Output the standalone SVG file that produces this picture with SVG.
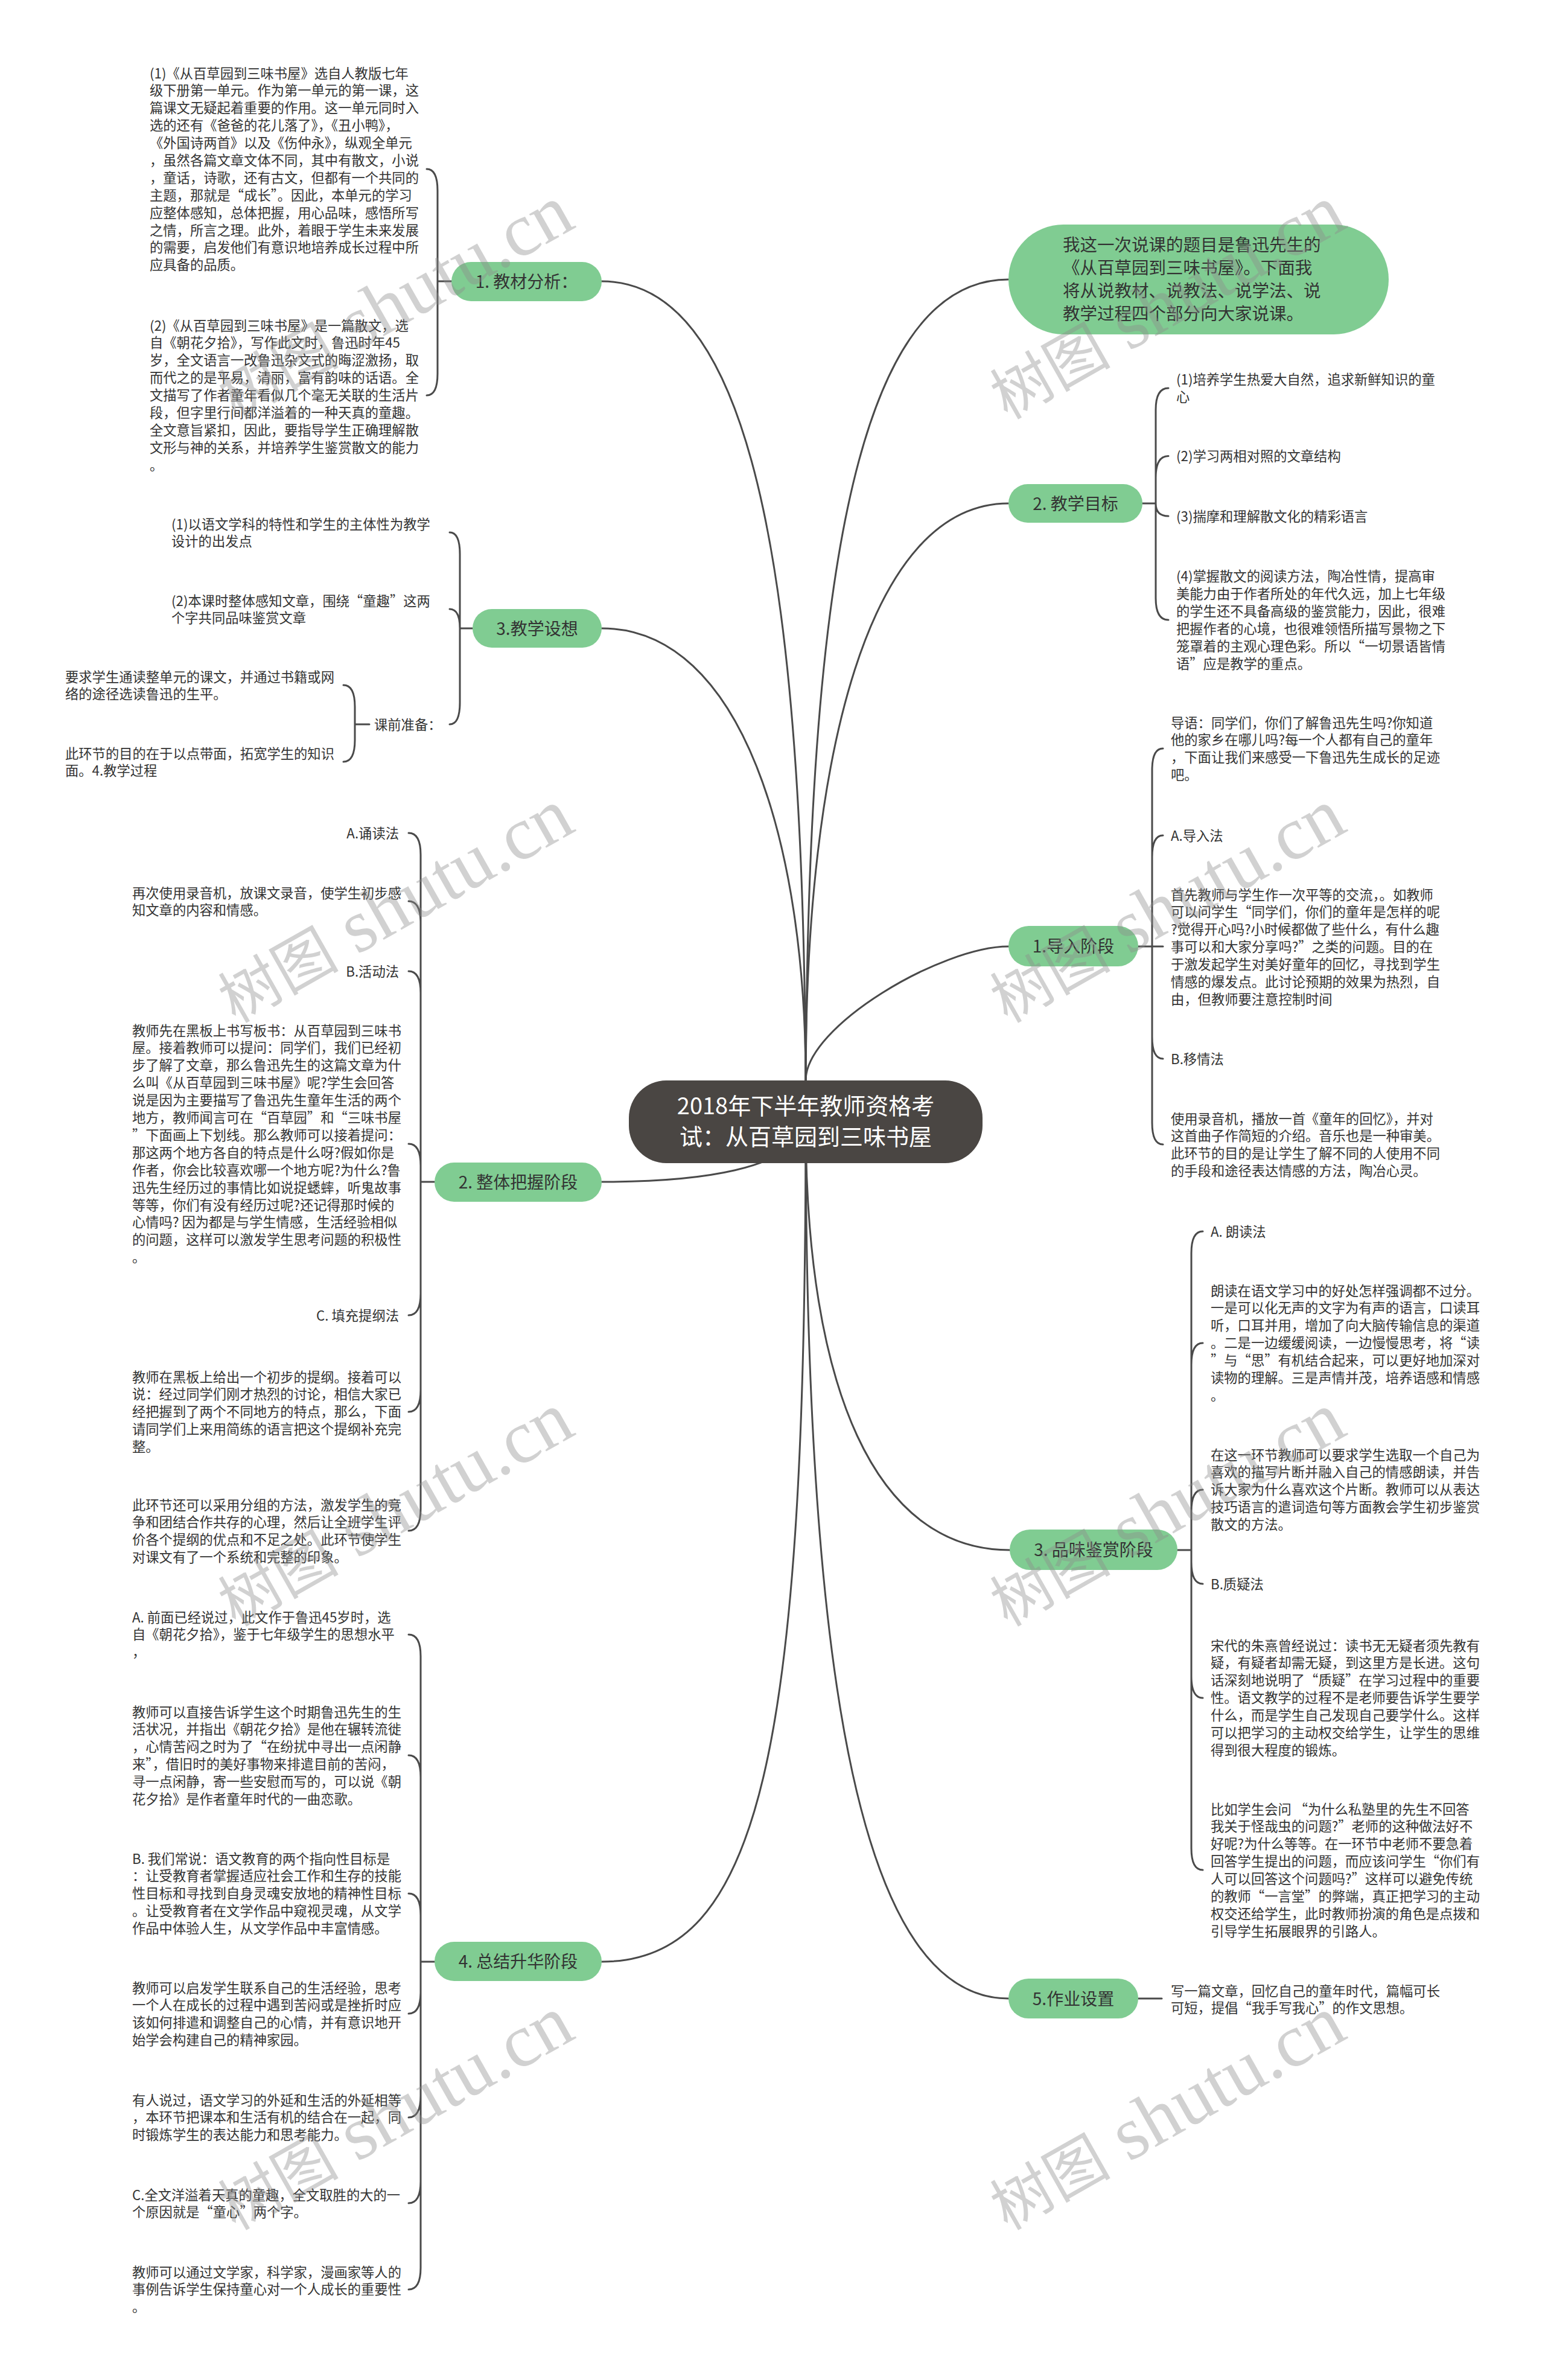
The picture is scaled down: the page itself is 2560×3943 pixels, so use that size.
<svg xmlns="http://www.w3.org/2000/svg" width="2560" height="3943" viewBox="0 0 2560 3943">
<style>
.t{font-family:'Noto Sans CJK SC','Noto Sans',sans-serif;font-size:22.3px;fill:#333}
.e{text-anchor:end}
.n{font-family:'Noto Sans CJK SC','Noto Sans',sans-serif;font-size:28px;fill:#333;text-anchor:middle}
.r{font-family:'Noto Sans CJK SC','Noto Sans',sans-serif;font-size:38px;fill:#fff;text-anchor:middle}
.i{font-family:'Noto Sans CJK SC','Noto Sans',sans-serif;font-size:28.5px;fill:#333}
.g{fill:#80cc92}
.c path{fill:none;stroke:#4a4a4a;stroke-width:3;stroke-linecap:round}
.wm text{font-family:'Liberation Serif','Noto Sans CJK SC',serif;fill:#8c8c8c;fill-opacity:0.4}
</style>
<rect width="2560" height="3943" fill="#fff"/>
<g id="connectors" class="c">
<path d="M1335 1858 C1335 1009 1260 466 997 466"/>
<path d="M1335 1790 C1335 1400 1230 1041 997 1041"/>
<path d="M1335 1858 C1320 1940 1150 1958 997 1958"/>
<path d="M1335 1858 C1335 2901 1260 3250 997 3250"/>
<path d="M1335 1858 C1335 1009 1408 463 1671 463"/>
<path d="M1335 1790 C1335 1250 1440 834 1671 834"/>
<path d="M1335 1790 C1335 1700 1560 1568 1671 1568"/>
<path d="M1335 1858 C1335 2300 1450 2568 1673 2568"/>
<path d="M1335 1858 C1335 2800 1430 3311 1671 3311"/>
<path d="M748 466 H725 M725 466 V316 Q725 280 707 280 M725 466 V619 Q725 655 707 655"/>
<path d="M783 1041 H762 M762 1041 V918 Q762 882 745 882 M762 1041 Q762 1009 745 1009 M762 1041 V1164 Q762 1200 745 1200"/>
<path d="M612 1200 H588 M588 1200 V1171 Q588 1135 569 1135 M588 1200 V1226 Q588 1262 569 1262"/>
<path d="M720 1958 H697 M697 1958 V1416 Q697 1380 677 1380 M697 1958 V1529 Q697 1493 677 1493 M697 1958 V1645 Q697 1609 677 1609 M697 1958 V1931 Q697 1895 677 1895 M697 1958 V2143 Q697 2179 677 2179 M697 1958 V2303 Q697 2339 677 2339 M697 1958 V2500 Q697 2536 677 2536"/>
<path d="M720 3250 H697 M697 3250 V2744 Q697 2708 677 2708 M697 3250 V2944 Q697 2908 677 2908 M697 3250 V3173 Q697 3137 677 3137 M697 3250 V3300 Q697 3336 677 3336 M697 3250 V3472 Q697 3508 677 3508 M697 3250 V3614 Q697 3650 677 3650 M697 3250 V3757 Q697 3793 677 3793"/>
<path d="M1893 834 H1915 M1915 834 V679 Q1915 643 1936 643 M1915 834 V791.5 Q1915 755.5 1936 755.5 M1915 834 Q1915 855 1936 855 M1915 834 V991 Q1915 1027 1936 1027"/>
<path d="M1886 1568 H1927 M1909 1568 V1276 Q1909 1240 1927 1240 M1909 1568 V1420 Q1909 1384 1927 1384 M1909 1568 V1718 Q1909 1754 1927 1754 M1909 1568 V1860 Q1909 1896 1927 1896"/>
<path d="M1951 2568 H1974 M1974 2568 V2076 Q1974 2040 1993 2040 M1974 2568 V2261 Q1974 2225 1993 2225 M1974 2568 V2504 Q1974 2468 1993 2468 M1974 2568 V2588 Q1974 2624 1993 2624 M1974 2568 V2777 Q1974 2813 1993 2813 M1974 2568 V3062 Q1974 3098 1993 3098"/>
<path d="M1886 3311 H1925"/>
</g>
<g id="root">
<rect x="1042" y="1790" width="586" height="137" rx="62" fill="#4a4643"/>
<text class="r" x="1335" y="1846.4">2018年下半年教师资格考</text>
<text class="r" x="1335" y="1897.4">试：从百草园到三味书屋</text>
</g>
<g id="intro">
<rect class="g" x="1671" y="372" width="630" height="182" rx="91"/>
<text class="i" x="1761" y="415.8">我这一次说课的题目是鲁迅先生的</text>
<text class="i" x="1761" y="453.8">《从百草园到三味书屋》。下面我</text>
<text class="i" x="1761" y="491.8">将从说教材、说教法、说学法、说</text>
<text class="i" x="1761" y="529.8">教学过程四个部分向大家说课。</text>
</g>
<g id="n1">
<rect class="g" x="748" y="434" width="249" height="65" rx="32.5"/>
<text class="n" x="872.5" y="477">1. 教材分析：</text>
</g>
<g id="n1-c1">
<text class="t" x="248" y="129.5"><tspan x="248" dy="0">(1)《从百草园到三味书屋》选自人教版七年</tspan><tspan x="248" dy="28.9">级下册第一单元。作为第一单元的第一课，这</tspan><tspan x="248" dy="28.9">篇课文无疑起着重要的作用。这一单元同时入</tspan><tspan x="248" dy="28.9">选的还有《爸爸的花儿落了》，《丑小鸭》，</tspan><tspan x="248" dy="28.9">《外国诗两首》以及《伤仲永》，纵观全单元</tspan><tspan x="248" dy="28.9">，虽然各篇文章文体不同，其中有散文，小说</tspan><tspan x="248" dy="28.9">，童话，诗歌，还有古文，但都有一个共同的</tspan><tspan x="248" dy="28.9">主题，那就是“成长”。因此，本单元的学习</tspan><tspan x="248" dy="28.9">应整体感知，总体把握，用心品味，感悟所写</tspan><tspan x="248" dy="28.9">之情，所言之理。此外，着眼于学生未来发展</tspan><tspan x="248" dy="28.9">的需要，启发他们有意识地培养成长过程中所</tspan><tspan x="248" dy="28.9">应具备的品质。</tspan></text>
</g>
<g id="n1-c2">
<text class="t" x="248" y="547.5"><tspan x="248" dy="0">(2)《从百草园到三味书屋》是一篇散文，选</tspan><tspan x="248" dy="28.9">自《朝花夕拾》，写作此文时，鲁迅时年45</tspan><tspan x="248" dy="28.9">岁，全文语言一改鲁迅杂文式的晦涩激扬，取</tspan><tspan x="248" dy="28.9">而代之的是平易，清丽，富有韵味的话语。全</tspan><tspan x="248" dy="28.9">文描写了作者童年看似几个毫无关联的生活片</tspan><tspan x="248" dy="28.9">段，但字里行间都洋溢着的一种天真的童趣。</tspan><tspan x="248" dy="28.9">全文意旨紧扣，因此，要指导学生正确理解散</tspan><tspan x="248" dy="28.9">文形与神的关系，并培养学生鉴赏散文的能力</tspan><tspan x="248" dy="28.9">。</tspan></text>
</g>
<g id="n3">
<rect class="g" x="783" y="1009" width="214" height="64" rx="32"/>
<text class="n" x="890" y="1051.6">3.教学设想</text>
</g>
<g id="n3-c1"><text class="t" x="284" y="876.5"><tspan x="284" dy="0">(1)以语文学科的特性和学生的主体性为教学</tspan><tspan x="284" dy="28.9">设计的出发点</tspan></text></g>
<g id="n3-c2"><text class="t" x="284" y="1003.5"><tspan x="284" dy="0">(2)本课时整体感知文章，围绕“童趣”这两</tspan><tspan x="284" dy="28.9">个字共同品味鉴赏文章</tspan></text></g>
<g id="n3-c3"><text class="t" x="620" y="1208.5">课前准备：</text></g>
<g id="n3-c3a"><text class="t" x="108" y="1129.5"><tspan x="108" dy="0">要求学生通读整单元的课文，并通过书籍或网</tspan><tspan x="108" dy="28.9">络的途径选读鲁迅的生平。</tspan></text></g>
<g id="n3-c3b"><text class="t" x="108" y="1256.5"><tspan x="108" dy="0">此环节的目的在于以点带面，拓宽学生的知识</tspan><tspan x="108" dy="28.9">面。4.教学过程</tspan></text></g>
<g id="n2">
<rect class="g" x="720" y="1926" width="277" height="65" rx="32.5"/>
<text class="n" x="858.5" y="1969">2. 整体把握阶段</text>
</g>
<g id="n2-c1"><text class="t e" x="661" y="1388.5">A.诵读法</text></g>
<g id="n2-c2"><text class="t" x="219" y="1487.5"><tspan x="219" dy="0">再次使用录音机，放课文录音，使学生初步感</tspan><tspan x="219" dy="28.9">知文章的内容和情感。</tspan></text></g>
<g id="n2-c3"><text class="t e" x="661" y="1617.5">B.活动法</text></g>
<g id="n2-c4"><text class="t" x="219" y="1715.5"><tspan x="219" dy="0">教师先在黑板上书写板书：从百草园到三味书</tspan><tspan x="219" dy="28.9">屋。接着教师可以提问：同学们，我们已经初</tspan><tspan x="219" dy="28.9">步了解了文章，那么鲁迅先生的这篇文章为什</tspan><tspan x="219" dy="28.9">么叫《从百草园到三味书屋》呢?学生会回答</tspan><tspan x="219" dy="28.9">说是因为主要描写了鲁迅先生童年生活的两个</tspan><tspan x="219" dy="28.9">地方，教师闻言可在“百草园”和“三味书屋</tspan><tspan x="219" dy="28.9">”下面画上下划线。那么教师可以接着提问：</tspan><tspan x="219" dy="28.9">那这两个地方各自的特点是什么呀?假如你是</tspan><tspan x="219" dy="28.9">作者，你会比较喜欢哪一个地方呢?为什么?鲁</tspan><tspan x="219" dy="28.9">迅先生经历过的事情比如说捉蟋蟀，听鬼故事</tspan><tspan x="219" dy="28.9">等等，你们有没有经历过呢?还记得那时候的</tspan><tspan x="219" dy="28.9">心情吗? 因为都是与学生情感，生活经验相似</tspan><tspan x="219" dy="28.9">的问题，这样可以激发学生思考问题的积极性</tspan><tspan x="219" dy="28.9">。</tspan></text></g>
<g id="n2-c5"><text class="t e" x="661" y="2187.5">C. 填充提纲法</text></g>
<g id="n2-c6"><text class="t" x="219" y="2289.5"><tspan x="219" dy="0">教师在黑板上给出一个初步的提纲。接着可以</tspan><tspan x="219" dy="28.9">说：经过同学们刚才热烈的讨论，相信大家已</tspan><tspan x="219" dy="28.9">经把握到了两个不同地方的特点，那么，下面</tspan><tspan x="219" dy="28.9">请同学们上来用简练的语言把这个提纲补充完</tspan><tspan x="219" dy="28.9">整。</tspan></text></g>
<g id="n2-c7"><text class="t" x="219" y="2501.5"><tspan x="219" dy="0">此环节还可以采用分组的方法，激发学生的竞</tspan><tspan x="219" dy="28.9">争和团结合作共存的心理，然后让全班学生评</tspan><tspan x="219" dy="28.9">价各个提纲的优点和不足之处。此环节使学生</tspan><tspan x="219" dy="28.9">对课文有了一个系统和完整的印象。</tspan></text></g>
<g id="n4">
<rect class="g" x="720" y="3217" width="277" height="65" rx="32.5"/>
<text class="n" x="858.5" y="3260">4. 总结升华阶段</text>
</g>
<g id="n4-c1"><text class="t" x="219" y="2687.5"><tspan x="219" dy="0">A. 前面已经说过，此文作于鲁迅45岁时，选</tspan><tspan x="219" dy="28.9">自《朝花夕拾》，鉴于七年级学生的思想水平</tspan><tspan x="219" dy="28.9">，</tspan></text></g>
<g id="n4-c2"><text class="t" x="219" y="2844.5"><tspan x="219" dy="0">教师可以直接告诉学生这个时期鲁迅先生的生</tspan><tspan x="219" dy="28.9">活状况，并指出《朝花夕拾》是他在辗转流徙</tspan><tspan x="219" dy="28.9">，心情苦闷之时为了“在纷扰中寻出一点闲静</tspan><tspan x="219" dy="28.9">来”，借旧时的美好事物来排遣目前的苦闷，</tspan><tspan x="219" dy="28.9">寻一点闲静，寄一些安慰而写的，可以说《朝</tspan><tspan x="219" dy="28.9">花夕拾》是作者童年时代的一曲恋歌。</tspan></text></g>
<g id="n4-c3"><text class="t" x="219" y="3087.5"><tspan x="219" dy="0">B. 我们常说：语文教育的两个指向性目标是</tspan><tspan x="219" dy="28.9">：让受教育者掌握适应社会工作和生存的技能</tspan><tspan x="219" dy="28.9">性目标和寻找到自身灵魂安放地的精神性目标</tspan><tspan x="219" dy="28.9">。让受教育者在文学作品中窥视灵魂，从文学</tspan><tspan x="219" dy="28.9">作品中体验人生，从文学作品中丰富情感。</tspan></text></g>
<g id="n4-c4"><text class="t" x="219" y="3301.5"><tspan x="219" dy="0">教师可以启发学生联系自己的生活经验，思考</tspan><tspan x="219" dy="28.9">一个人在成长的过程中遇到苦闷或是挫折时应</tspan><tspan x="219" dy="28.9">该如何排遣和调整自己的心情，并有意识地开</tspan><tspan x="219" dy="28.9">始学会构建自己的精神家园。</tspan></text></g>
<g id="n4-c5"><text class="t" x="219" y="3487.5"><tspan x="219" dy="0">有人说过，语文学习的外延和生活的外延相等</tspan><tspan x="219" dy="28.9">，本环节把课本和生活有机的结合在一起，同</tspan><tspan x="219" dy="28.9">时锻炼学生的表达能力和思考能力。</tspan></text></g>
<g id="n4-c6"><text class="t" x="219" y="3644.5"><tspan x="219" dy="0">C.全文洋溢着天真的童趣，全文取胜的大的一</tspan><tspan x="219" dy="28.9">个原因就是“童心”两个字。</tspan></text></g>
<g id="n4-c7"><text class="t" x="219" y="3772.5"><tspan x="219" dy="0">教师可以通过文学家，科学家，漫画家等人的</tspan><tspan x="219" dy="28.9">事例告诉学生保持童心对一个人成长的重要性</tspan><tspan x="219" dy="28.9">。</tspan></text></g>
<g id="r2">
<rect class="g" x="1671" y="802" width="222" height="64" rx="32"/>
<text class="n" x="1782" y="844.6">2. 教学目标</text>
</g>
<g id="r2-c1"><text class="t" x="1949" y="637"><tspan x="1949" dy="0">(1)培养学生热爱大自然，追求新鲜知识的童</tspan><tspan x="1949" dy="28.9">心</tspan></text></g>
<g id="r2-c2"><text class="t" x="1949" y="764">(2)学习两相对照的文章结构</text></g>
<g id="r2-c3"><text class="t" x="1949" y="863.5">(3)揣摩和理解散文化的精彩语言</text></g>
<g id="r2-c4"><text class="t" x="1949" y="963"><tspan x="1949" dy="0">(4)掌握散文的阅读方法，陶冶性情，提高审</tspan><tspan x="1949" dy="28.9">美能力由于作者所处的年代久远，加上七年级</tspan><tspan x="1949" dy="28.9">的学生还不具备高级的鉴赏能力，因此，很难</tspan><tspan x="1949" dy="28.9">把握作者的心境，也很难领悟所描写景物之下</tspan><tspan x="1949" dy="28.9">笼罩着的主观心理色彩。所以“一切景语皆情</tspan><tspan x="1949" dy="28.9">语”应是教学的重点。</tspan></text></g>
<g id="r1">
<rect class="g" x="1671" y="1534" width="215" height="67" rx="33.5"/>
<text class="n" x="1778.5" y="1578">1.导入阶段</text>
</g>
<g id="r1-c1"><text class="t" x="1940" y="1205.5"><tspan x="1940" dy="0">导语：同学们，你们了解鲁迅先生吗?你知道</tspan><tspan x="1940" dy="28.9">他的家乡在哪儿吗?每一个人都有自己的童年</tspan><tspan x="1940" dy="28.9">，下面让我们来感受一下鲁迅先生成长的足迹</tspan><tspan x="1940" dy="28.9">吧。</tspan></text></g>
<g id="r1-c2"><text class="t" x="1940" y="1392.5">A.导入法</text></g>
<g id="r1-c3"><text class="t" x="1940" y="1490.5"><tspan x="1940" dy="0">首先教师与学生作一次平等的交流，。如教师</tspan><tspan x="1940" dy="28.9">可以问学生“同学们，你们的童年是怎样的呢</tspan><tspan x="1940" dy="28.9">?觉得开心吗?小时候都做了些什么，有什么趣</tspan><tspan x="1940" dy="28.9">事可以和大家分享吗?”之类的问题。目的在</tspan><tspan x="1940" dy="28.9">于激发起学生对美好童年的回忆，寻找到学生</tspan><tspan x="1940" dy="28.9">情感的爆发点。此讨论预期的效果为热烈，自</tspan><tspan x="1940" dy="28.9">由，但教师要注意控制时间</tspan></text></g>
<g id="r1-c4"><text class="t" x="1940" y="1762.5">B.移情法</text></g>
<g id="r1-c5"><text class="t" x="1940" y="1861.5"><tspan x="1940" dy="0">使用录音机，播放一首《童年的回忆》，并对</tspan><tspan x="1940" dy="28.9">这首曲子作简短的介绍。音乐也是一种审美。</tspan><tspan x="1940" dy="28.9">此环节的目的是让学生了解不同的人使用不同</tspan><tspan x="1940" dy="28.9">的手段和途径表达情感的方法，陶冶心灵。</tspan></text></g>
<g id="r3">
<rect class="g" x="1673" y="2534" width="278" height="67" rx="33.5"/>
<text class="n" x="1812" y="2578">3. 品味鉴赏阶段</text>
</g>
<g id="r3-c1"><text class="t" x="2006" y="2048.5">A. 朗读法</text></g>
<g id="r3-c2"><text class="t" x="2006" y="2146.5"><tspan x="2006" dy="0">朗读在语文学习中的好处怎样强调都不过分。</tspan><tspan x="2006" dy="28.9">一是可以化无声的文字为有声的语言，口读耳</tspan><tspan x="2006" dy="28.9">听，口耳并用，增加了向大脑传输信息的渠道</tspan><tspan x="2006" dy="28.9">。二是一边缓缓阅读，一边慢慢思考，将“读</tspan><tspan x="2006" dy="28.9">”与“思”有机结合起来，可以更好地加深对</tspan><tspan x="2006" dy="28.9">读物的理解。三是声情并茂，培养语感和情感</tspan><tspan x="2006" dy="28.9">。</tspan></text></g>
<g id="r3-c3"><text class="t" x="2006" y="2418.5"><tspan x="2006" dy="0">在这一环节教师可以要求学生选取一个自己为</tspan><tspan x="2006" dy="28.9">喜欢的描写片断并融入自己的情感朗读，并告</tspan><tspan x="2006" dy="28.9">诉大家为什么喜欢这个片断。教师可以从表达</tspan><tspan x="2006" dy="28.9">技巧语言的遣词造句等方面教会学生初步鉴赏</tspan><tspan x="2006" dy="28.9">散文的方法。</tspan></text></g>
<g id="r3-c4"><text class="t" x="2006" y="2632.5">B.质疑法</text></g>
<g id="r3-c5"><text class="t" x="2006" y="2734.5"><tspan x="2006" dy="0">宋代的朱熹曾经说过：读书无无疑者须先教有</tspan><tspan x="2006" dy="28.9">疑，有疑者却需无疑，到这里方是长进。这句</tspan><tspan x="2006" dy="28.9">话深刻地说明了“质疑”在学习过程中的重要</tspan><tspan x="2006" dy="28.9">性。语文教学的过程不是老师要告诉学生要学</tspan><tspan x="2006" dy="28.9">什么，而是学生自己发现自己要学什么。这样</tspan><tspan x="2006" dy="28.9">可以把学习的主动权交给学生，让学生的思维</tspan><tspan x="2006" dy="28.9">得到很大程度的锻炼。</tspan></text></g>
<g id="r3-c6"><text class="t" x="2006" y="3005.5"><tspan x="2006" dy="0">比如学生会问 “为什么私塾里的先生不回答</tspan><tspan x="2006" dy="28.9">我关于怪哉虫的问题?”老师的这种做法好不</tspan><tspan x="2006" dy="28.9">好呢?为什么等等。在一环节中老师不要急着</tspan><tspan x="2006" dy="28.9">回答学生提出的问题，而应该问学生“你们有</tspan><tspan x="2006" dy="28.9">人可以回答这个问题吗?”这样可以避免传统</tspan><tspan x="2006" dy="28.9">的教师“一言堂”的弊端，真正把学习的主动</tspan><tspan x="2006" dy="28.9">权交还给学生，此时教师扮演的角色是点拨和</tspan><tspan x="2006" dy="28.9">引导学生拓展眼界的引路人。</tspan></text></g>
<g id="r5">
<rect class="g" x="1671" y="3278" width="215" height="66" rx="33"/>
<text class="n" x="1778.5" y="3321.6">5.作业设置</text>
</g>
<g id="r5-c1"><text class="t" x="1940" y="3306.5"><tspan x="1940" dy="0">写一篇文章，回忆自己的童年时代，篇幅可长</tspan><tspan x="1940" dy="28.9">可短，提倡“我手写我心”的作文思想。</tspan></text></g>
<g class="wm">
<text x="390" y="696" transform="rotate(-29.5 390 696)"><tspan font-size="100">树图</tspan><tspan font-size="125"> shutu.cn</tspan></text>
<text x="1669" y="696" transform="rotate(-29.5 1669 696)"><tspan font-size="100">树图</tspan><tspan font-size="125"> shutu.cn</tspan></text>
<text x="390" y="1696" transform="rotate(-29.5 390 1696)"><tspan font-size="100">树图</tspan><tspan font-size="125"> shutu.cn</tspan></text>
<text x="1669" y="1696" transform="rotate(-29.5 1669 1696)"><tspan font-size="100">树图</tspan><tspan font-size="125"> shutu.cn</tspan></text>
<text x="390" y="2696" transform="rotate(-29.5 390 2696)"><tspan font-size="100">树图</tspan><tspan font-size="125"> shutu.cn</tspan></text>
<text x="1669" y="2696" transform="rotate(-29.5 1669 2696)"><tspan font-size="100">树图</tspan><tspan font-size="125"> shutu.cn</tspan></text>
<text x="390" y="3696" transform="rotate(-29.5 390 3696)"><tspan font-size="100">树图</tspan><tspan font-size="125"> shutu.cn</tspan></text>
<text x="1669" y="3696" transform="rotate(-29.5 1669 3696)"><tspan font-size="100">树图</tspan><tspan font-size="125"> shutu.cn</tspan></text>
</g>
</svg>
